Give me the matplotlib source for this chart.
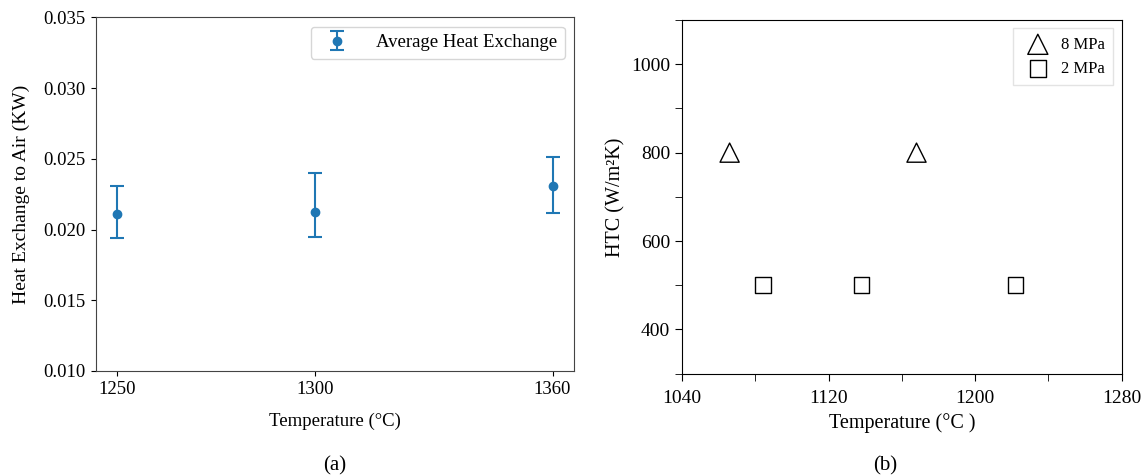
import matplotlib
matplotlib.use("Agg")
import matplotlib.pyplot as plt
from matplotlib.ticker import MultipleLocator, FormatStrFormatter

plt.rcParams["font.family"] = ["Liberation Serif", "DejaVu Serif"]

# (a) average heat exchange to air
temps_a = [1250, 1300, 1360]
heat_mean = [0.02111, 0.02123, 0.02311]
heat_err_low = [0.00174, 0.00179, 0.00193]
heat_err_high = [0.00195, 0.00275, 0.00200]

# (b) heat transfer coefficient
temps_8mpa = [1066, 1168]
htc_8mpa = [800, 800]
temps_2mpa = [1084, 1138, 1222]
htc_2mpa = [500, 500, 500]

fig = plt.figure(figsize=(11.46, 4.76), dpi=100)

ax1 = fig.add_axes([0.0835, 0.2206, 0.4176, 0.7431])
ax1.errorbar(temps_a, heat_mean, yerr=[heat_err_low, heat_err_high],
             fmt="o", color="#1f77b4", capsize=5, markersize=6,
             elinewidth=1.5, capthick=1.5, label="Average Heat Exchange")
ax1.set_ylim(0.010, 0.035)
ax1.set_xticks(temps_a)
ax1.set_yticks([0.010, 0.015, 0.020, 0.025, 0.030, 0.035])
ax1.yaxis.set_major_formatter(FormatStrFormatter("%.3f"))
ax1.tick_params(labelsize=13.5)
ax1.set_xlabel("Temperature (°C)", fontsize=13.5, labelpad=11)
ax1.set_ylabel("Heat Exchange to Air (KW)", fontsize=14, labelpad=10)
ax1.legend(loc="upper right", fontsize=13.5, handletextpad=1.1)
for s in ax1.spines.values():
    s.set_color("#444444")

ax2 = fig.add_axes([0.5951, 0.2149, 0.3837, 0.7431])
ax2.scatter(temps_8mpa, htc_8mpa, marker="^", s=190, facecolors="none",
            edgecolors="black", linewidths=1.0, label="8 MPa")
ax2.scatter(temps_2mpa, htc_2mpa, marker="s", s=130, facecolors="none",
            edgecolors="black", linewidths=1.0, label="2 MPa")
ax2.set_xlim(1040, 1280)
ax2.set_ylim(300, 1100)
ax2.xaxis.set_major_locator(MultipleLocator(80))
ax2.xaxis.set_minor_locator(MultipleLocator(40))
ax2.yaxis.set_major_locator(MultipleLocator(200))
ax2.yaxis.set_minor_locator(MultipleLocator(100))
ax2.set_yticks([400, 600, 800, 1000])
ax2.tick_params(which="both", length=5, labelsize=14)
ax2.tick_params(axis="x", pad=7)
ax2.set_xlabel("Temperature (°C )", fontsize=14.5, labelpad=4)
ax2.set_ylabel("HTC (W/m²K)", fontsize=14.5)
leg = ax2.legend(loc="upper right", fontsize=12, fancybox=False,
                 handletextpad=0.4, borderpad=0.5, labelspacing=0.5,
                 markerscale=1.05)
leg.get_frame().set_edgecolor("#dddddd")

fig.text(0.292, 0.012, "(a)", ha="center", fontsize=15)
fig.text(0.772, 0.012, "(b)", ha="center", fontsize=15)

fig.savefig("out.png", dpi=100)
